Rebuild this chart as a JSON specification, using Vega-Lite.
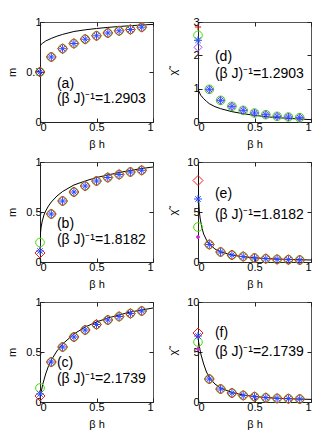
{
"$schema":"https://vega.github.io/schema/vega-lite/v6.json",
"padding":{"left":5,"top":15,"right":5,"bottom":5},
"config":{"view":{"stroke":"#555","strokeWidth":1},
"axis":{"labelFont":"Liberation Sans","labelFontSize":11,"labelColor":"black","titleFont":"Liberation Sans","titleFontSize":11,"titleFontWeight":"normal","titleColor":"black","grid":false,"domainColor":"#222","tickColor":"#222","tickSize":-4,"labelPadding":3},
"axisX":{"titleY":22,"titleBaseline":"middle"},
"axisY":{"titleY":50,"titleBaseline":"middle","titleAlign":"center","titleAngle":-90}},
"datasets":{
"pts":[
{"p":"a","x":0,"A":0.5,"B":0.5,"C":0.5,"D":0.5},
{"p":"a","x":0.1,"A":0.65,"B":0.65,"C":0.65,"D":0.65},
{"p":"a","x":0.2,"A":0.733,"B":0.733,"C":0.733,"D":0.733},
{"p":"a","x":0.3,"A":0.785,"B":0.785,"C":0.785,"D":0.785},
{"p":"a","x":0.4,"A":0.828,"B":0.828,"C":0.828,"D":0.828},
{"p":"a","x":0.5,"A":0.862,"B":0.862,"C":0.862,"D":0.862},
{"p":"a","x":0.6,"A":0.89,"B":0.89,"C":0.89,"D":0.89},
{"p":"a","x":0.7,"A":0.912,"B":0.912,"C":0.912,"D":0.912},
{"p":"a","x":0.8,"A":0.925,"B":0.925,"C":0.925,"D":0.925},
{"p":"a","x":0.9,"A":0.948,"B":0.948,"C":0.948,"D":0.948},
{"p":"b","x":0,"A":0.09,"B":0.195,"C":0.11,"D":0.11},
{"p":"b","x":0.1,"A":0.48,"B":0.48,"C":0.48,"D":0.48},
{"p":"b","x":0.2,"A":0.61,"B":0.61,"C":0.61,"D":0.61},
{"p":"b","x":0.3,"A":0.7,"B":0.7,"C":0.7,"D":0.7},
{"p":"b","x":0.4,"A":0.76,"B":0.76,"C":0.76,"D":0.76},
{"p":"b","x":0.5,"A":0.81,"B":0.81,"C":0.81,"D":0.81},
{"p":"b","x":0.6,"A":0.845,"B":0.845,"C":0.845,"D":0.845},
{"p":"b","x":0.7,"A":0.875,"B":0.875,"C":0.875,"D":0.875},
{"p":"b","x":0.8,"A":0.9,"B":0.9,"C":0.9,"D":0.9},
{"p":"b","x":0.9,"A":0.917,"B":0.917,"C":0.917,"D":0.917},
{"p":"c","x":0,"A":0.06,"B":0.14,"C":0.08,"D":0.08},
{"p":"c","x":0.1,"A":0.4,"B":0.4,"C":0.4,"D":0.4},
{"p":"c","x":0.2,"A":0.55,"B":0.55,"C":0.55,"D":0.55},
{"p":"c","x":0.3,"A":0.65,"B":0.65,"C":0.65,"D":0.65},
{"p":"c","x":0.4,"A":0.72,"B":0.72,"C":0.72,"D":0.72},
{"p":"c","x":0.5,"A":0.775,"B":0.775,"C":0.775,"D":0.775},
{"p":"c","x":0.6,"A":0.82,"B":0.82,"C":0.82,"D":0.82},
{"p":"c","x":0.7,"A":0.855,"B":0.855,"C":0.855,"D":0.855},
{"p":"c","x":0.8,"A":0.885,"B":0.885,"C":0.885,"D":0.885},
{"p":"c","x":0.9,"A":0.91,"B":0.91,"C":0.91,"D":0.91},
{"p":"d","x":0,"G":2.85,"B":2.6,"C":2.45,"D":2.45,"F":2.24},
{"p":"d","x":0.1,"F":0.98,"B":0.98,"C":0.98,"D":0.98},
{"p":"d","x":0.2,"F":0.65,"B":0.65,"C":0.65,"D":0.65},
{"p":"d","x":0.3,"F":0.47,"B":0.47,"C":0.47,"D":0.47},
{"p":"d","x":0.4,"F":0.35,"B":0.35,"C":0.35,"D":0.35},
{"p":"d","x":0.5,"F":0.27,"B":0.27,"C":0.27,"D":0.27},
{"p":"d","x":0.6,"F":0.22,"B":0.22,"C":0.22,"D":0.22},
{"p":"d","x":0.7,"F":0.17,"B":0.17,"C":0.17,"D":0.17},
{"p":"d","x":0.8,"F":0.15,"B":0.15,"C":0.15,"D":0.15},
{"p":"d","x":0.9,"F":0.13,"B":0.13,"C":0.13,"D":0.13},
{"p":"e","x":0,"A":8.15,"C":6.3,"D":6.3,"B":3.5,"E":2.5},
{"p":"e","x":0.1,"A":1.75,"B":1.75,"C":1.75,"D":1.75},
{"p":"e","x":0.2,"A":1.0,"B":1.0,"C":1.0,"D":1.0},
{"p":"e","x":0.3,"A":0.7,"B":0.7,"C":0.7,"D":0.7},
{"p":"e","x":0.4,"A":0.55,"B":0.55,"C":0.55,"D":0.55},
{"p":"e","x":0.5,"A":0.4,"B":0.4,"C":0.4,"D":0.4},
{"p":"e","x":0.6,"A":0.33,"B":0.33,"C":0.33,"D":0.33},
{"p":"e","x":0.7,"A":0.26,"B":0.26,"C":0.26,"D":0.26},
{"p":"e","x":0.8,"A":0.23,"B":0.23,"C":0.23,"D":0.23},
{"p":"e","x":0.9,"A":0.2,"B":0.2,"C":0.2,"D":0.2},
{"p":"f","x":0,"A":6.9,"C":6.6,"D":6.6,"B":6.0,"E":5.3},
{"p":"f","x":0.1,"A":2.3,"B":2.3,"C":2.3,"D":2.3},
{"p":"f","x":0.2,"A":1.3,"B":1.3,"C":1.3,"D":1.3},
{"p":"f","x":0.3,"A":0.9,"B":0.9,"C":0.9,"D":0.9},
{"p":"f","x":0.4,"A":0.66,"B":0.66,"C":0.66,"D":0.66},
{"p":"f","x":0.5,"A":0.53,"B":0.53,"C":0.53,"D":0.53},
{"p":"f","x":0.6,"A":0.43,"B":0.43,"C":0.43,"D":0.43},
{"p":"f","x":0.7,"A":0.36,"B":0.36,"C":0.36,"D":0.36},
{"p":"f","x":0.8,"A":0.33,"B":0.33,"C":0.33,"D":0.33},
{"p":"f","x":0.9,"A":0.3,"B":0.3,"C":0.3,"D":0.3}
],
"lines":[
{"p":"a","x":0,"y":0.765},{"p":"a","x":0.02,"y":0.785},{"p":"a","x":0.05,"y":0.81},{"p":"a","x":0.1,"y":0.836},{"p":"a","x":0.15,"y":0.858},{"p":"a","x":0.2,"y":0.876},{"p":"a","x":0.3,"y":0.905},{"p":"a","x":0.4,"y":0.922},{"p":"a","x":0.5,"y":0.935},{"p":"a","x":0.6,"y":0.946},{"p":"a","x":0.7,"y":0.955},{"p":"a","x":0.8,"y":0.963},{"p":"a","x":0.9,"y":0.97},{"p":"a","x":1,"y":0.976},
{"p":"b","x":0,"y":0.2},{"p":"b","x":0.005,"y":0.3},{"p":"b","x":0.01,"y":0.35},{"p":"b","x":0.02,"y":0.41},{"p":"b","x":0.035,"y":0.47},{"p":"b","x":0.05,"y":0.51},{"p":"b","x":0.075,"y":0.56},{"p":"b","x":0.1,"y":0.6},{"p":"b","x":0.15,"y":0.66},{"p":"b","x":0.2,"y":0.705},{"p":"b","x":0.3,"y":0.77},{"p":"b","x":0.4,"y":0.81},{"p":"b","x":0.5,"y":0.845},{"p":"b","x":0.6,"y":0.87},{"p":"b","x":0.7,"y":0.895},{"p":"b","x":0.8,"y":0.915},{"p":"b","x":0.9,"y":0.935},{"p":"b","x":1,"y":0.95},
{"p":"c","x":0,"y":0.04},{"p":"c","x":0.01,"y":0.1},{"p":"c","x":0.025,"y":0.18},{"p":"c","x":0.05,"y":0.28},{"p":"c","x":0.075,"y":0.36},{"p":"c","x":0.1,"y":0.42},{"p":"c","x":0.15,"y":0.51},{"p":"c","x":0.2,"y":0.58},{"p":"c","x":0.3,"y":0.68},{"p":"c","x":0.4,"y":0.75},{"p":"c","x":0.5,"y":0.8},{"p":"c","x":0.6,"y":0.84},{"p":"c","x":0.7,"y":0.87},{"p":"c","x":0.8,"y":0.9},{"p":"c","x":0.9,"y":0.92},{"p":"c","x":1,"y":0.94},
{"p":"d","x":0,"y":1.0},{"p":"d","x":0.01,"y":0.9},{"p":"d","x":0.025,"y":0.8},{"p":"d","x":0.05,"y":0.7},{"p":"d","x":0.075,"y":0.62},{"p":"d","x":0.1,"y":0.55},{"p":"d","x":0.15,"y":0.46},{"p":"d","x":0.2,"y":0.4},{"p":"d","x":0.3,"y":0.31},{"p":"d","x":0.4,"y":0.25},{"p":"d","x":0.5,"y":0.2},{"p":"d","x":0.6,"y":0.16},{"p":"d","x":0.7,"y":0.13},{"p":"d","x":0.8,"y":0.11},{"p":"d","x":0.9,"y":0.09},{"p":"d","x":1,"y":0.07},
{"p":"e","x":0,"y":9.6},{"p":"e","x":0.003,"y":7.5},{"p":"e","x":0.007,"y":6.0},{"p":"e","x":0.012,"y":5.0},{"p":"e","x":0.02,"y":4.3},{"p":"e","x":0.035,"y":3.4},{"p":"e","x":0.05,"y":2.8},{"p":"e","x":0.075,"y":2.2},{"p":"e","x":0.1,"y":1.8},{"p":"e","x":0.15,"y":1.3},{"p":"e","x":0.2,"y":1.02},{"p":"e","x":0.3,"y":0.7},{"p":"e","x":0.4,"y":0.52},{"p":"e","x":0.5,"y":0.42},{"p":"e","x":0.6,"y":0.35},{"p":"e","x":0.7,"y":0.3},{"p":"e","x":0.8,"y":0.26},{"p":"e","x":0.9,"y":0.23},{"p":"e","x":1,"y":0.2},
{"p":"f","x":0,"y":6.3},{"p":"f","x":0.01,"y":5.7},{"p":"f","x":0.025,"y":4.8},{"p":"f","x":0.05,"y":3.8},{"p":"f","x":0.075,"y":3.0},{"p":"f","x":0.1,"y":2.45},{"p":"f","x":0.15,"y":1.8},{"p":"f","x":0.2,"y":1.4},{"p":"f","x":0.3,"y":0.95},{"p":"f","x":0.4,"y":0.7},{"p":"f","x":0.5,"y":0.55},{"p":"f","x":0.6,"y":0.45},{"p":"f","x":0.7,"y":0.38},{"p":"f","x":0.8,"y":0.33},{"p":"f","x":0.9,"y":0.29},{"p":"f","x":1,"y":0.26}
],
"txt":[
{"p":"a","x":0.15,"y":0.385,"t":"(a)"},{"p":"a","x":0.15,"y":0.235,"t":"(β J)⁻¹=1.2903"},
{"p":"b","x":0.15,"y":0.38,"t":"(b)"},{"p":"b","x":0.15,"y":0.22,"t":"(β J)⁻¹=1.8182"},
{"p":"c","x":0.15,"y":0.39,"t":"(c)"},{"p":"c","x":0.15,"y":0.23,"t":"(β J)⁻¹=2.1739"},
{"p":"d","x":0.15,"y":1.95,"t":"(d)"},{"p":"d","x":0.15,"y":1.44,"t":"(β J)⁻¹=1.2903"},
{"p":"e","x":0.15,"y":6.8,"t":"(e)"},{"p":"e","x":0.15,"y":4.7,"t":"(β J)⁻¹=1.8182"},
{"p":"f","x":0.15,"y":6.9,"t":"(f)"},{"p":"f","x":0.15,"y":5.0,"t":"(β J)⁻¹=2.1739"}
]},
"columns":2,
"spacing":{"row":40,"column":45},
"bounds":"flush",
"concat":[
{"width":113,"height":100,"resolve":{"axis":{"x":"independent","y":"independent"}},"layer":[
{"data":{"name":"lines"},"transform":[{"filter":"datum.p=='a'"}],"mark":{"type":"line","color":"black","strokeWidth":1,"clip":true},"encoding":{"x":{"field":"x","type":"quantitative","scale":{"domain":[0,1],"nice":false},"axis":{"values":[0,0.5,1],"format":".1~f","title":"β h"}},"y":{"field":"y","type":"quantitative","scale":{"domain":[0,1],"nice":false},"axis":{"values":[0,0.5,1],"format":".1~f","title":"m","titleX":-28}}}},
{"data":{"name":"pts"},"transform":[{"filter":"datum.p=='a'"},{"fold":["B","A","F","G","E","C","D"],"as":["s","y"]},{"filter":"isValid(datum.y)"}],"mark":{"type":"point","strokeWidth":1,"opacity":1},"encoding":{"x":{"field":"x","type":"quantitative","axis":null},"y":{"field":"y","type":"quantitative","axis":null},"shape":{"field":"s","type":"nominal","scale":{"domain":["A","B","C","D","E","F","G"],"range":["diamond","circle","M-1,-1L1,1M-1,1L1,-1","M-1,0L1,0M0,-1L0,1","circle","diamond","M-1,0L1,0M0,-1L0,1"]},"legend":null},"stroke":{"field":"s","type":"nominal","scale":{"domain":["A","B","C","D","E","F","G"],"range":["#ff1a1a","#44dd00","#2a4cff","#2a4cff","#dd22dd","#a050ff","#cc1111"]},"legend":null},"fill":{"field":"s","type":"nominal","scale":{"domain":["A","B","C","D","E","F","G"],"range":["transparent","transparent","transparent","transparent","#dd22dd","transparent","transparent"]},"legend":null},"size":{"field":"s","type":"nominal","scale":{"type":"ordinal","domain":["A","B","C","D","E","F","G"],"range":[100,75,30,64,8,64,40]},"legend":null}}},
{"data":{"name":"txt"},"transform":[{"filter":"datum.p=='a'"}],"mark":{"type":"text","align":"left","baseline":"middle","fontSize":14,"font":"Liberation Sans"},"encoding":{"x":{"field":"x","type":"quantitative","axis":{"orient":"top","labels":false,"title":null,"domain":false,"values":[0,0.5,1]}},"y":{"field":"y","type":"quantitative","axis":{"orient":"right","labels":false,"title":null,"domain":false,"values":[0,0.5,1]}},"text":{"field":"t"}}}
]},
{"width":113,"height":100,"resolve":{"axis":{"x":"independent","y":"independent"}},"layer":[
{"data":{"name":"lines"},"transform":[{"filter":"datum.p=='d'"}],"mark":{"type":"line","color":"black","strokeWidth":1,"clip":true},"encoding":{"x":{"field":"x","type":"quantitative","scale":{"domain":[0,1],"nice":false},"axis":{"values":[0,0.5,1],"format":".1~f","title":"β h"}},"y":{"field":"y","type":"quantitative","scale":{"domain":[0,3],"nice":false},"axis":{"values":[0,1,2,3],"format":"d","title":"χ̃","titleX":-25}}}},
{"data":{"name":"pts"},"transform":[{"filter":"datum.p=='d'"},{"fold":["B","A","F","G","E","C","D"],"as":["s","y"]},{"filter":"isValid(datum.y)"}],"mark":{"type":"point","strokeWidth":1,"opacity":1},"encoding":{"x":{"field":"x","type":"quantitative","axis":null},"y":{"field":"y","type":"quantitative","axis":null},"shape":{"field":"s","type":"nominal","scale":{"domain":["A","B","C","D","E","F","G"],"range":["diamond","circle","M-1,-1L1,1M-1,1L1,-1","M-1,0L1,0M0,-1L0,1","circle","diamond","M-1,0L1,0M0,-1L0,1"]},"legend":null},"stroke":{"field":"s","type":"nominal","scale":{"domain":["A","B","C","D","E","F","G"],"range":["#ff1a1a","#44dd00","#2a4cff","#2a4cff","#dd22dd","#a050ff","#cc1111"]},"legend":null},"fill":{"field":"s","type":"nominal","scale":{"domain":["A","B","C","D","E","F","G"],"range":["transparent","transparent","transparent","transparent","#dd22dd","transparent","transparent"]},"legend":null},"size":{"field":"s","type":"nominal","scale":{"type":"ordinal","domain":["A","B","C","D","E","F","G"],"range":[100,75,30,64,8,64,40]},"legend":null}}},
{"data":{"name":"txt"},"transform":[{"filter":"datum.p=='d'"}],"mark":{"type":"text","align":"left","baseline":"middle","fontSize":14,"font":"Liberation Sans"},"encoding":{"x":{"field":"x","type":"quantitative","axis":{"orient":"top","labels":false,"title":null,"domain":false,"values":[0,0.5,1]}},"y":{"field":"y","type":"quantitative","axis":{"orient":"right","labels":false,"title":null,"domain":false,"values":[0,1,2,3]}},"text":{"field":"t"}}}
]},
{"width":113,"height":100,"resolve":{"axis":{"x":"independent","y":"independent"}},"layer":[
{"data":{"name":"lines"},"transform":[{"filter":"datum.p=='b'"}],"mark":{"type":"line","color":"black","strokeWidth":1,"clip":true},"encoding":{"x":{"field":"x","type":"quantitative","scale":{"domain":[0,1],"nice":false},"axis":{"values":[0,0.5,1],"format":".1~f","title":"β h"}},"y":{"field":"y","type":"quantitative","scale":{"domain":[0,1],"nice":false},"axis":{"values":[0,0.5,1],"format":".1~f","title":"m","titleX":-28}}}},
{"data":{"name":"pts"},"transform":[{"filter":"datum.p=='b'"},{"fold":["B","A","F","G","E","C","D"],"as":["s","y"]},{"filter":"isValid(datum.y)"}],"mark":{"type":"point","strokeWidth":1,"opacity":1},"encoding":{"x":{"field":"x","type":"quantitative","axis":null},"y":{"field":"y","type":"quantitative","axis":null},"shape":{"field":"s","type":"nominal","scale":{"domain":["A","B","C","D","E","F","G"],"range":["diamond","circle","M-1,-1L1,1M-1,1L1,-1","M-1,0L1,0M0,-1L0,1","circle","diamond","M-1,0L1,0M0,-1L0,1"]},"legend":null},"stroke":{"field":"s","type":"nominal","scale":{"domain":["A","B","C","D","E","F","G"],"range":["#ff1a1a","#44dd00","#2a4cff","#2a4cff","#dd22dd","#a050ff","#cc1111"]},"legend":null},"fill":{"field":"s","type":"nominal","scale":{"domain":["A","B","C","D","E","F","G"],"range":["transparent","transparent","transparent","transparent","#dd22dd","transparent","transparent"]},"legend":null},"size":{"field":"s","type":"nominal","scale":{"type":"ordinal","domain":["A","B","C","D","E","F","G"],"range":[100,75,30,64,8,64,40]},"legend":null}}},
{"data":{"name":"txt"},"transform":[{"filter":"datum.p=='b'"}],"mark":{"type":"text","align":"left","baseline":"middle","fontSize":14,"font":"Liberation Sans"},"encoding":{"x":{"field":"x","type":"quantitative","axis":{"orient":"top","labels":false,"title":null,"domain":false,"values":[0,0.5,1]}},"y":{"field":"y","type":"quantitative","axis":{"orient":"right","labels":false,"title":null,"domain":false,"values":[0,0.5,1]}},"text":{"field":"t"}}}
]},
{"width":113,"height":100,"resolve":{"axis":{"x":"independent","y":"independent"}},"layer":[
{"data":{"name":"lines"},"transform":[{"filter":"datum.p=='e'"}],"mark":{"type":"line","color":"black","strokeWidth":1,"clip":true},"encoding":{"x":{"field":"x","type":"quantitative","scale":{"domain":[0,1],"nice":false},"axis":{"values":[0,0.5,1],"format":".1~f","title":"β h"}},"y":{"field":"y","type":"quantitative","scale":{"domain":[0,10],"nice":false},"axis":{"values":[0,5,10],"format":"d","title":"χ̃","titleX":-25}}}},
{"data":{"name":"pts"},"transform":[{"filter":"datum.p=='e'"},{"fold":["B","A","F","G","E","C","D"],"as":["s","y"]},{"filter":"isValid(datum.y)"}],"mark":{"type":"point","strokeWidth":1,"opacity":1},"encoding":{"x":{"field":"x","type":"quantitative","axis":null},"y":{"field":"y","type":"quantitative","axis":null},"shape":{"field":"s","type":"nominal","scale":{"domain":["A","B","C","D","E","F","G"],"range":["diamond","circle","M-1,-1L1,1M-1,1L1,-1","M-1,0L1,0M0,-1L0,1","circle","diamond","M-1,0L1,0M0,-1L0,1"]},"legend":null},"stroke":{"field":"s","type":"nominal","scale":{"domain":["A","B","C","D","E","F","G"],"range":["#ff1a1a","#44dd00","#2a4cff","#2a4cff","#dd22dd","#a050ff","#cc1111"]},"legend":null},"fill":{"field":"s","type":"nominal","scale":{"domain":["A","B","C","D","E","F","G"],"range":["transparent","transparent","transparent","transparent","#dd22dd","transparent","transparent"]},"legend":null},"size":{"field":"s","type":"nominal","scale":{"type":"ordinal","domain":["A","B","C","D","E","F","G"],"range":[100,75,30,64,8,64,40]},"legend":null}}},
{"data":{"name":"txt"},"transform":[{"filter":"datum.p=='e'"}],"mark":{"type":"text","align":"left","baseline":"middle","fontSize":14,"font":"Liberation Sans"},"encoding":{"x":{"field":"x","type":"quantitative","axis":{"orient":"top","labels":false,"title":null,"domain":false,"values":[0,0.5,1]}},"y":{"field":"y","type":"quantitative","axis":{"orient":"right","labels":false,"title":null,"domain":false,"values":[0,5,10]}},"text":{"field":"t"}}}
]},
{"width":113,"height":100,"resolve":{"axis":{"x":"independent","y":"independent"}},"layer":[
{"data":{"name":"lines"},"transform":[{"filter":"datum.p=='c'"}],"mark":{"type":"line","color":"black","strokeWidth":1,"clip":true},"encoding":{"x":{"field":"x","type":"quantitative","scale":{"domain":[0,1],"nice":false},"axis":{"values":[0,0.5,1],"format":".1~f","title":"β h"}},"y":{"field":"y","type":"quantitative","scale":{"domain":[0,1],"nice":false},"axis":{"values":[0,0.5,1],"format":".1~f","title":"m","titleX":-28}}}},
{"data":{"name":"pts"},"transform":[{"filter":"datum.p=='c'"},{"fold":["B","A","F","G","E","C","D"],"as":["s","y"]},{"filter":"isValid(datum.y)"}],"mark":{"type":"point","strokeWidth":1,"opacity":1},"encoding":{"x":{"field":"x","type":"quantitative","axis":null},"y":{"field":"y","type":"quantitative","axis":null},"shape":{"field":"s","type":"nominal","scale":{"domain":["A","B","C","D","E","F","G"],"range":["diamond","circle","M-1,-1L1,1M-1,1L1,-1","M-1,0L1,0M0,-1L0,1","circle","diamond","M-1,0L1,0M0,-1L0,1"]},"legend":null},"stroke":{"field":"s","type":"nominal","scale":{"domain":["A","B","C","D","E","F","G"],"range":["#ff1a1a","#44dd00","#2a4cff","#2a4cff","#dd22dd","#a050ff","#cc1111"]},"legend":null},"fill":{"field":"s","type":"nominal","scale":{"domain":["A","B","C","D","E","F","G"],"range":["transparent","transparent","transparent","transparent","#dd22dd","transparent","transparent"]},"legend":null},"size":{"field":"s","type":"nominal","scale":{"type":"ordinal","domain":["A","B","C","D","E","F","G"],"range":[100,75,30,64,8,64,40]},"legend":null}}},
{"data":{"name":"txt"},"transform":[{"filter":"datum.p=='c'"}],"mark":{"type":"text","align":"left","baseline":"middle","fontSize":14,"font":"Liberation Sans"},"encoding":{"x":{"field":"x","type":"quantitative","axis":{"orient":"top","labels":false,"title":null,"domain":false,"values":[0,0.5,1]}},"y":{"field":"y","type":"quantitative","axis":{"orient":"right","labels":false,"title":null,"domain":false,"values":[0,0.5,1]}},"text":{"field":"t"}}}
]},
{"width":113,"height":100,"resolve":{"axis":{"x":"independent","y":"independent"}},"layer":[
{"data":{"name":"lines"},"transform":[{"filter":"datum.p=='f'"}],"mark":{"type":"line","color":"black","strokeWidth":1,"clip":true},"encoding":{"x":{"field":"x","type":"quantitative","scale":{"domain":[0,1],"nice":false},"axis":{"values":[0,0.5,1],"format":".1~f","title":"β h"}},"y":{"field":"y","type":"quantitative","scale":{"domain":[0,10],"nice":false},"axis":{"values":[0,5,10],"format":"d","title":"χ̃","titleX":-25}}}},
{"data":{"name":"pts"},"transform":[{"filter":"datum.p=='f'"},{"fold":["B","A","F","G","E","C","D"],"as":["s","y"]},{"filter":"isValid(datum.y)"}],"mark":{"type":"point","strokeWidth":1,"opacity":1},"encoding":{"x":{"field":"x","type":"quantitative","axis":null},"y":{"field":"y","type":"quantitative","axis":null},"shape":{"field":"s","type":"nominal","scale":{"domain":["A","B","C","D","E","F","G"],"range":["diamond","circle","M-1,-1L1,1M-1,1L1,-1","M-1,0L1,0M0,-1L0,1","circle","diamond","M-1,0L1,0M0,-1L0,1"]},"legend":null},"stroke":{"field":"s","type":"nominal","scale":{"domain":["A","B","C","D","E","F","G"],"range":["#ff1a1a","#44dd00","#2a4cff","#2a4cff","#dd22dd","#a050ff","#cc1111"]},"legend":null},"fill":{"field":"s","type":"nominal","scale":{"domain":["A","B","C","D","E","F","G"],"range":["transparent","transparent","transparent","transparent","#dd22dd","transparent","transparent"]},"legend":null},"size":{"field":"s","type":"nominal","scale":{"type":"ordinal","domain":["A","B","C","D","E","F","G"],"range":[100,75,30,64,8,64,40]},"legend":null}}},
{"data":{"name":"txt"},"transform":[{"filter":"datum.p=='f'"}],"mark":{"type":"text","align":"left","baseline":"middle","fontSize":14,"font":"Liberation Sans"},"encoding":{"x":{"field":"x","type":"quantitative","axis":{"orient":"top","labels":false,"title":null,"domain":false,"values":[0,0.5,1]}},"y":{"field":"y","type":"quantitative","axis":{"orient":"right","labels":false,"title":null,"domain":false,"values":[0,5,10]}},"text":{"field":"t"}}}
]}
]
}
